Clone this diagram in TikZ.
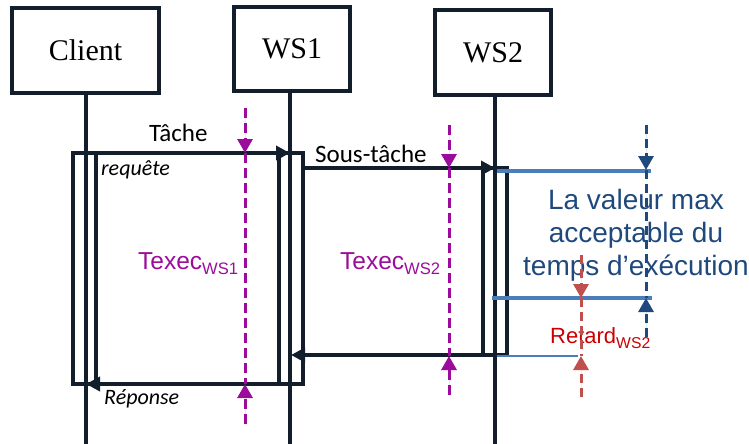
\documentclass[tikz,border=0pt]{standalone}
\usepackage{fontspec}
\setmainfont{Liberation Serif}
\newfontfamily\calib{Carlito}
\newfontfamily\arialf{Liberation Sans}
\usetikzlibrary{arrows.meta}
\definecolor{navy}{RGB}{18,30,44}
\definecolor{purp}{RGB}{156,12,156}
\definecolor{steel}{RGB}{74,126,187}
\definecolor{dblue}{RGB}{31,73,125}
\definecolor{lred}{RGB}{192,80,77}
\definecolor{tred}{RGB}{204,0,0}
\tikzset{
  x=1pt, y=-1pt,
  actor/.style={draw=navy, line width=3.6pt, rectangle, inner sep=0pt, font=\fontsize{30}{30}\selectfont},
  life/.style={draw=navy, line width=3.6pt},
  actbar/.style={draw=navy, line width=3.4pt, fill=white},
  msg/.style={draw=navy, line width=3.6pt, -{Triangle[length=14pt,width=14pt]}},
  lbl/.style={font=\calib\fontsize{25}{25}\selectfont, anchor=base west, inner sep=0pt, text=black},
  ilbl/.style={font=\calib\itshape\fontsize{22}{22}\selectfont, anchor=base west, inner sep=0pt, text=black},
  pdash/.style={draw=purp, line width=3pt, dash pattern=on 10pt off 5pt},
  bdash/.style={draw=dblue, line width=3pt, dash pattern=on 9pt off 5pt},
  rdash/.style={draw=lred, line width=3pt, dash pattern=on 9pt off 5pt},
  tip/.style={-{Triangle[length=14pt,width=15pt]}},
  bline/.style={draw=steel, line width=3.8pt},
}
\begin{document}
\begin{tikzpicture}
\useasboundingbox (0,0) rectangle (749,444);
% actors
\node[actor, minimum width=147pt, minimum height=85pt] (client) at (85.5,50.5) {Client};
\node[actor, minimum width=116pt, minimum height=84pt] (ws1) at (292,49) {WS1};
\node[actor, minimum width=116pt, minimum height=85pt] (ws2) at (493,52.5) {WS2};
% lifelines
\coordinate (cend) at (86,444);
\coordinate (w1end) at (290,444);
\coordinate (w2end) at (495,444);
\draw[life] (client.south -| cend) -- (cend);
\draw[life] (ws1.south -| w1end) -- (w1end);
\draw[life] (ws2.south -| w2end) -- (w2end);
% activation bars
\path[actbar] (73,153) rectangle (96,384);
\draw[life] (86,153) -- (86,384);
\path[actbar] (279,153) rectangle (303,384);
\draw[life] (290,153) -- (290,384);
\path[actbar] (483,168) rectangle (507,355);
\draw[life] (495,168) -- (495,355);
% message coordinates
\coordinate (tA) at (96,153);
\coordinate (tB) at (290,153);
\coordinate (sA) at (303,168);
\coordinate (sB) at (495,168);
\coordinate (rA) at (483,355);
\coordinate (rB) at (291,355);
\coordinate (pA) at (279,384);
\coordinate (pB) at (86,384);
\draw[msg] (tA) -- (tB);
\draw[msg] (sA) -- (sB);
\draw[msg] (rA) -- (rB);
\draw[msg] (pA) -- (pB);
% labels
\node[lbl] (tache) at (149,141) {Tâche};
\node[ilbl] (req) at (101,175) {requête};
\node[lbl] (stache) at (315,162) {Sous-tâche};
\node[ilbl] (rep) at (104,404) {Réponse};
% blue lines
\coordinate (b1a) at (497,171); \coordinate (b1b) at (651,171);
\coordinate (b2a) at (492,298); \coordinate (b2b) at (652,298);
\coordinate (b3a) at (497,356); \coordinate (b3b) at (578,356);
\draw[bline] (b1a) -- (b1b);
\draw[bline] (b2a) -- (b2b);
\draw[draw=steel, line width=2.6pt] (b3a) -- (b3b);
% texts
\node[font=\arialf\fontsize{24.5}{24.5}\selectfont, text=purp, anchor=base west, inner sep=0pt] (tx1) at (138,269) {Texec\raisebox{-5pt}{\fontsize{16.6}{16.6}\selectfont WS1}};
\node[font=\arialf\fontsize{24.5}{24.5}\selectfont, text=purp, anchor=base west, inner sep=0pt] (tx2) at (340,269) {Texec\raisebox{-5pt}{\fontsize{16.6}{16.6}\selectfont WS2}};
\node[font=\arialf\fontsize{22}{22}\selectfont, text=tred, anchor=base west, inner sep=0pt] (ret) at (550,343) {Retard\raisebox{-5pt}{\fontsize{15.7}{15.7}\selectfont WS2}};
\node[font=\arialf\fontsize{28}{33}\selectfont, text=dblue, align=center, anchor=north, inner sep=0pt] (vmax) at (636,189) {La valeur max\\acceptable du\\temps d’exécution};
% purple dashed 1
\coordinate (p1t) at (245,108); \coordinate (p1a) at (245,153);
\coordinate (p1b) at (245,384); \coordinate (p1e) at (245,424);
\draw[pdash] (p1a) -- (p1b);
\draw[pdash, tip, fill=purp] (p1t) -- (p1a);
\draw[pdash, tip, fill=purp] (p1e) -- (p1b);
% purple dashed 2
\coordinate (p2t) at (449,125); \coordinate (p2a) at (449,168);
\coordinate (p2b) at (449,356); \coordinate (p2e) at (449,395);
\draw[pdash] (p2a) -- (p2b);
\draw[pdash, tip, fill=purp] (p2t) -- (p2a);
\draw[pdash, tip, fill=purp] (p2e) -- (p2b);
% dark blue dashed
\coordinate (d1t) at (646,125); \coordinate (d1a) at (646,170);
\coordinate (d1b) at (646,298); \coordinate (d1e) at (646,337);
\draw[bdash] (d1a) -- (d1b);
\draw[bdash, tip, fill=dblue] (d1t) -- (d1a);
\draw[bdash, tip, fill=dblue] (d1e) -- (d1b);
% red dashed
\coordinate (r1t) at (581,255); \coordinate (r1a) at (581,298);
\coordinate (r1b) at (581,356); \coordinate (r1e) at (581,397);
\draw[rdash] (r1a) -- (r1b);
\draw[rdash, tip, fill=lred] (r1t) -- (r1a);
\draw[rdash, tip, fill=lred] (r1e) -- (r1b);
\end{tikzpicture}
\end{document}
